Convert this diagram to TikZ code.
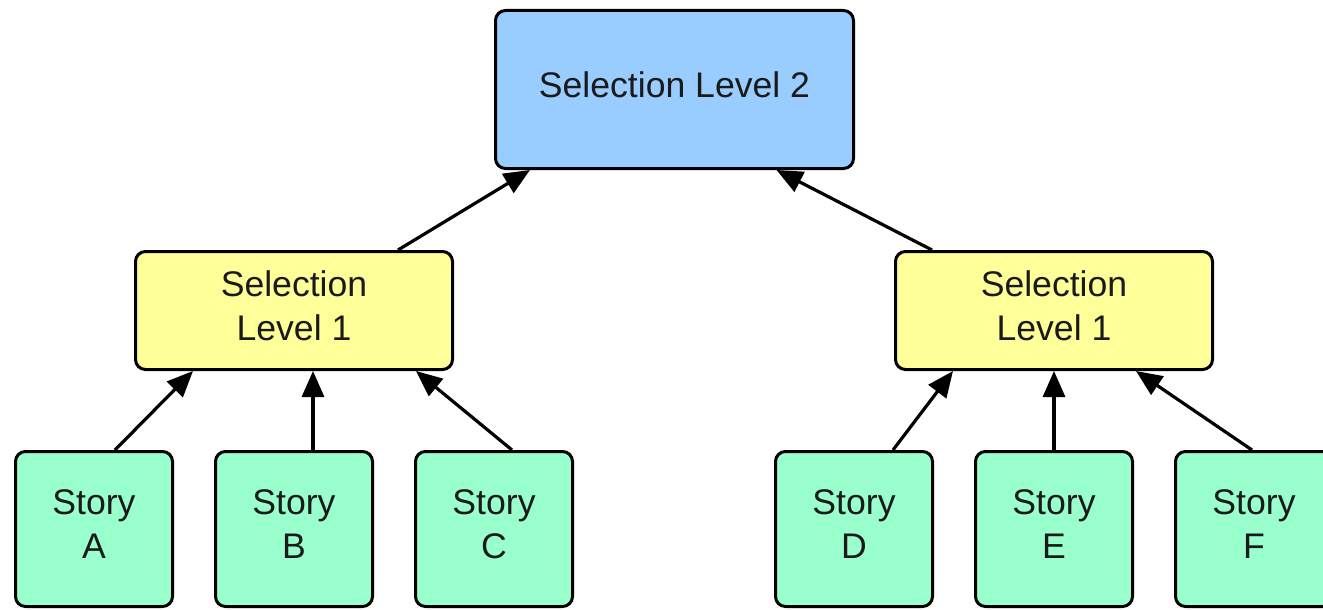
\documentclass[tikz,border=0pt]{standalone}
\usepackage{fontspec}
\setmainfont{Liberation Sans}
\usetikzlibrary{arrows.meta}
\definecolor{topblue}{HTML}{99CCFF}
\definecolor{midyellow}{HTML}{FFFF99}
\definecolor{storygreen}{HTML}{99FFCC}
\definecolor{txt}{HTML}{1A1A1A}
\tikzset{
  boxbase/.style={draw=black, line width=3pt, rounded corners=10pt, align=center,
    text=txt, font=\fontsize{35.6}{44}\selectfont, inner sep=0pt, text depth=10pt},
  topbox/.style={boxbase, fill=topblue, minimum width=358pt, minimum height=158pt},
  midbox/.style={boxbase, fill=midyellow, minimum width=317pt, minimum height=118pt},
  storybox/.style={boxbase, fill=storygreen, minimum width=157pt, minimum height=155pt},
  conn/.style={line width=3.2pt, -{Triangle[length=26pt,width=22pt]}}
}
\begin{document}
\begin{tikzpicture}[x=1pt,y=-1pt]
\useasboundingbox[fill=white] (0,0) rectangle (1323,610);
\node[topbox] (top) at (674.5,89.5) {Selection Level 2};
\node[midbox] (l1a) at (294,310.5) {Selection\\Level 1};
\node[midbox] (l1b) at (1054,310.5) {Selection\\Level 1};
\node[storybox] (sa) at (94,529) {Story\\A};
\node[storybox] (sb) at (294,529) {Story\\B};
\node[storybox] (sc) at (494,529) {Story\\C};
\node[storybox] (sd) at (854,529) {Story\\D};
\node[storybox] (se) at (1054,529) {Story\\E};
\node[storybox] (sf) at (1254,529) {Story\\F};
\draw[conn] ([xshift=104pt]l1a.north) -- ([xshift=-144.5pt]top.south);
\draw[conn] ([xshift=-122pt]l1b.north) -- ([xshift=102pt]top.south);
\draw[conn] ([xshift=21pt]sa.north) -- ([xshift=-101pt]l1a.south);
\draw[conn] ([xshift=19pt]sb.north) -- ([xshift=19pt]l1a.south);
\draw[conn] ([xshift=18pt]sc.north) -- ([xshift=122pt]l1a.south);
\draw[conn] ([xshift=39pt]sd.north) -- ([xshift=-101pt]l1b.south);
\draw[conn] (se.north) -- (l1b.south);
\draw[conn] ([xshift=-2pt]sf.north) -- ([xshift=82pt]l1b.south);
\end{tikzpicture}
\end{document}
